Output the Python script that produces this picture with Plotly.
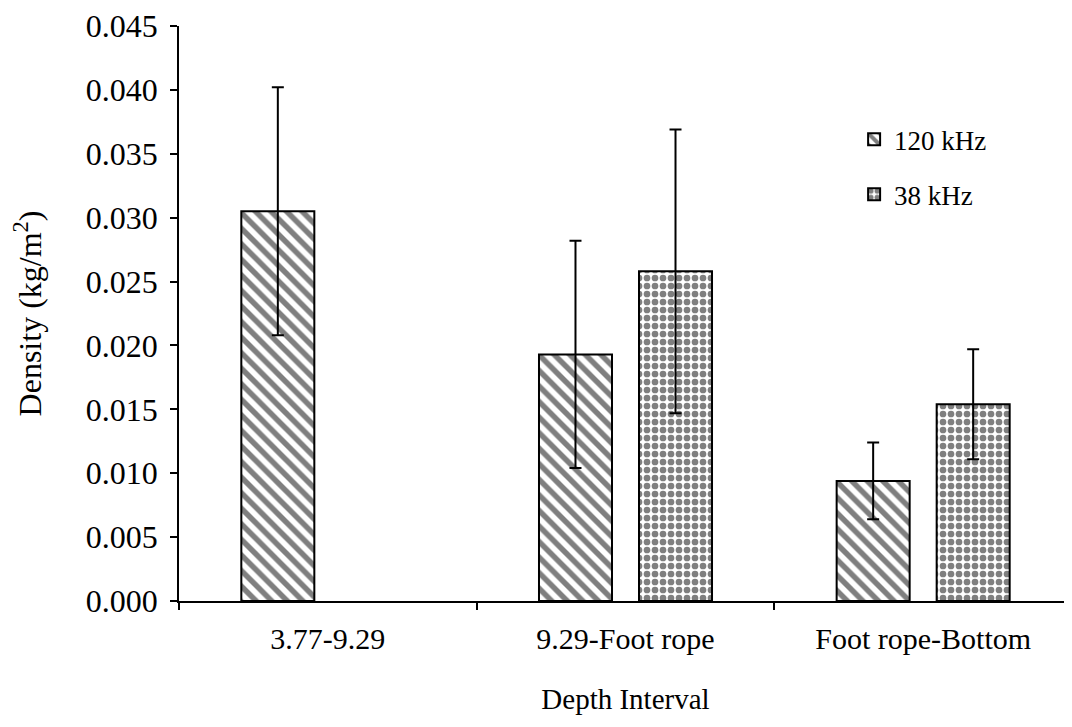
import plotly.graph_objects as go

categories = ["3.77-9.29", "9.29-Foot rope", "Foot rope-Bottom"]
series_names = ["120 kHz", "38 kHz"]
values_120 = [0.0305, 0.0193, 0.0094]
errors_120 = [0.0097, 0.0089, 0.0030]
values_38 = [None, 0.0258, 0.0154]
errors_38 = [0.0, 0.0111, 0.0043]
y_ticks = [0.000, 0.005, 0.010, 0.015, 0.020, 0.025, 0.030, 0.035, 0.040, 0.045]

FONT = "Liberation Serif"

fig = go.Figure()
fig.add_trace(go.Bar(
    name=series_names[0], x=categories, y=values_120,
    legendgroup="a",
    marker=dict(color="white", line=dict(color="black", width=2),
                pattern=dict(shape="\\", fgcolor="black", bgcolor="white",
                             size=11, solidity=0.5)),
    error_y=dict(type="data", array=errors_120, visible=True,
                 color="black", thickness=2, width=6),
))
fig.add_trace(go.Bar(
    name=series_names[1], x=categories, y=values_38,
    legendgroup="b",
    marker=dict(color="white", line=dict(color="black", width=2),
                pattern=dict(shape=".", fgcolor="black", bgcolor="white",
                             size=8, solidity=0.55)),
    error_y=dict(type="data", array=errors_38, visible=True,
                 color="black", thickness=2, width=6),
))

fig.update_layout(
    width=1064, height=719,
    margin=dict(l=171, r=0, t=16, b=126),
    paper_bgcolor="white", plot_bgcolor="white",
    barmode="group", bargap=0.328, bargroupgap=0.27,
    font=dict(family=FONT, size=26, color="black"),
    showlegend=True,
    legend=dict(x=0.756, y=0.845, xanchor="left", yanchor="top",
                bgcolor="rgba(0,0,0,0)", tracegroupgap=17,
                font=dict(family=FONT, size=27, color="black"),
                itemwidth=30),
    xaxis=dict(
        type="category", showline=True, linecolor="black", linewidth=1.5,
        ticks="outside", tickson="boundaries", ticklen=7, tickcolor="black",
        tickwidth=1.5, showgrid=False, zeroline=False,
        ticklabelstandoff=10,
        tickfont=dict(family=FONT, size=30, color="black"),
        title=dict(text="Depth Interval", standoff=35,
                   font=dict(family=FONT, size=29, color="black")),
    ),
    yaxis=dict(
        range=[0, 0.045], tickvals=y_ticks, tickformat=".3f",
        showline=True, linecolor="black", linewidth=1.5,
        ticks="outside", ticklen=7, tickcolor="black", tickwidth=1.5,
        showgrid=False, zeroline=False, ticklabelstandoff=6,
        ticklabeloverflow="allow",
        tickfont=dict(family=FONT, size=32, color="black"),
        title=dict(text="Density (kg/m<sup>2</sup>)", standoff=52,
                   font=dict(family=FONT, size=32, color="black")),
    ),
)

fig.write_html("out.html")
